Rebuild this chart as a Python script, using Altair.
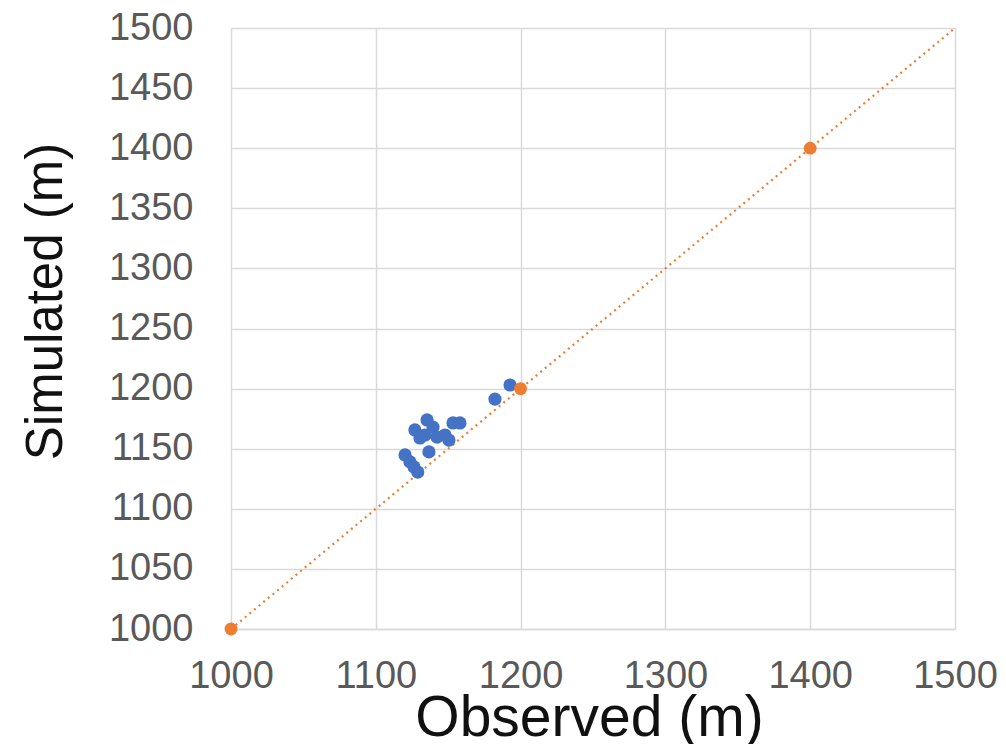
import altair as alt
import pandas as pd

obs = [1120.2, 1123.6, 1126.4, 1129.0, 1127.0, 1130.5, 1135.4, 1139.5, 1134.0,
       1142.3, 1147.8, 1150.5, 1136.7, 1153.3, 1158.1, 1182.3, 1192.7]
sim = [1144.8, 1139.0, 1134.8, 1130.6, 1165.6, 1158.9, 1173.9, 1168.0, 1161.4,
       1159.7, 1161.4, 1157.2, 1147.3, 1171.4, 1171.4, 1191.3, 1203.0]
ref_x = [1000, 1200, 1400]
ref_y = [1000, 1200, 1400]
line_x = [1000, 1500]
line_y = [1000, 1500]
x_ticks = [1000, 1100, 1200, 1300, 1400, 1500]
y_ticks = [1000, 1050, 1100, 1150, 1200, 1250, 1300, 1350, 1400, 1450, 1500]

pts = pd.DataFrame({"x": obs, "y": sim})
refp = pd.DataFrame({"x": ref_x, "y": ref_y})
ln = pd.DataFrame({"x": line_x, "y": line_y})

FONT = "Liberation Sans"
xs = alt.Scale(domain=[1000, 1500], nice=False, zero=False)
ys = alt.Scale(domain=[1000, 1500], nice=False, zero=False)

xax = alt.Axis(values=x_ticks, format="d", title="Observed (m)", grid=True, gridColor="#d9d9d9",
               gridWidth=1.5, domainColor="#d9d9d9", domainWidth=1.5, ticks=False,
               labelFont=FONT, labelFontSize=38, labelColor="#595959", labelPadding=28,
               labelFlush=False, titleFont=FONT, titleFontSize=57, titleFontWeight="normal",
               titleColor="#111111", titleBaseline="alphabetic", titleY=106, titleX=358)
yax = alt.Axis(values=y_ticks, format="d", title="Simulated (m)", grid=True, gridColor="#d9d9d9",
               gridWidth=1.5, domain=False, ticks=False,
               labelFont=FONT, labelFontSize=38, labelColor="#595959", labelPadding=38,
               labelFlush=False, titleFont=FONT, titleFontSize=51, titleFontWeight="normal",
               titleColor="#111111", titleBaseline="alphabetic", titleX=-170, titleY=273,
               titleAngle=-90, titleAlign="center")

line = alt.Chart(ln).mark_line(color="#ED7D31", strokeDash=[2, 4], strokeWidth=2.2).encode(
    x=alt.X("x:Q", scale=xs, axis=xax), y=alt.Y("y:Q", scale=ys, axis=yax))
blue = alt.Chart(pts).mark_circle(color="#4472C4", opacity=1, size=175).encode(
    x=alt.X("x:Q", scale=xs), y=alt.Y("y:Q", scale=ys))
orange = alt.Chart(refp).mark_circle(color="#ED7D31", opacity=1, size=165).encode(
    x=alt.X("x:Q", scale=xs), y=alt.Y("y:Q", scale=ys))

chart = alt.layer(line, blue, orange).properties(
    width=724, height=601,
    autosize=alt.AutoSizeParams(type="none"),
    padding={"left": 223, "top": 20, "right": 43, "bottom": 115},
).configure_view(stroke=None).configure(background="white")

chart.save("out.html", embed_options={"renderer": "svg", "actions": False})
